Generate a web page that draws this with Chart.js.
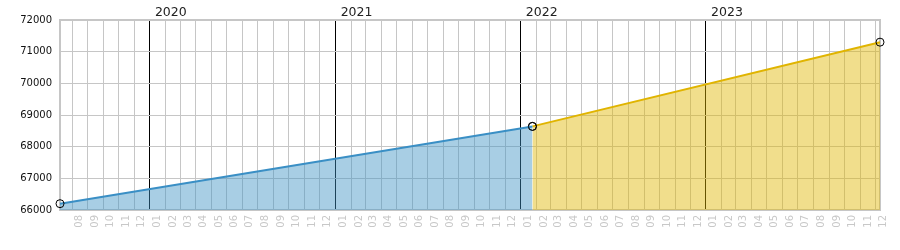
<!DOCTYPE html>
<html>
<head>
<meta charset="utf-8">
<script src="https://cdn.jsdelivr.net/npm/chart.js@4/dist/chart.umd.min.js"></script>
<style>
    html, body { margin: 0; padding: 0; background: #fff; }
    #wrap { width: 900px; height: 250px; }
</style>
</head>
<body>
<div id="wrap"><canvas id="chart" width="900" height="250"></canvas></div>
<script>
// data
const blueDates = ['2019-07-08', '2022-01-24'];
const blueValues = [66200, 68640];
const yellowDates = ['2022-01-24', '2023-12-10'];
const yellowValues = [68640, 71300];
const yearLabels = ['2020', '2021', '2022', '2023'];
const yTicks = [66000, 67000, 68000, 69000, 70000, 71000, 72000];

const GRID = 'rgb(198, 198, 198)';
const FONT = 'DejaVu Sans';

const toPoints = (dates, values) => dates.map((d, i) => ({ x: Date.parse(d), y: values[i] }));

const xMin = Date.parse(blueDates[0]);
const xMax = Date.parse(yellowDates[yellowDates.length - 1]);

// month starts inside the range
function monthTicks(min, max) {
    const ticks = [];
    const d = new Date(min);
    let y = d.getUTCFullYear();
    let m = d.getUTCMonth() + 1;
    while (true) {
        if (m > 11) { m = 0; y++; }
        const t = Date.UTC(y, m, 1);
        if (t > max) break;
        ticks.push({ value: t });
        m++;
    }
    return ticks;
}

// plot frame
const framePlugin = {
    id: 'frame',
    beforeDatasetsDraw(chart) {
        const { ctx, chartArea: a } = chart;
        ctx.save();
        ctx.strokeStyle = GRID;
        ctx.lineWidth = 2;
        ctx.strokeRect(a.left, a.top, a.right - a.left, a.bottom - a.top);
        ctx.restore();
    }
};

const lineSet = (label, data, line, fill) => ({
    label: label,
    data: data,
    borderColor: line,
    backgroundColor: fill,
    borderWidth: 2,
    fill: 'start',
    tension: 0,
    clip: false,
    pointRadius: 4,
    pointBorderWidth: 1,
    pointBorderColor: '#000',
    pointBackgroundColor: 'rgba(0,0,0,0)',
    pointHoverRadius: 4
});

new Chart(document.getElementById('chart').getContext('2d'), {
    type: 'line',
    data: {
        datasets: [
            lineSet('A', toPoints(blueDates, blueValues), 'rgb(58, 143, 197)', 'rgba(62, 147, 195, 0.45)'),
            lineSet('B', toPoints(yellowDates, yellowValues), 'rgb(224, 180, 0)', 'rgba(224, 182, 0, 0.45)')
        ]
    },
    options: {
        responsive: false,
        animation: false,
        layout: { padding: { left: 0, right: 20, top: 0, bottom: 0 } },
        plugins: {
            legend: { display: false },
            tooltip: { enabled: false }
        },
        scales: {
            x: {
                type: 'linear',
                position: 'bottom',
                min: xMin,
                max: xMax,
                afterBuildTicks: (scale) => { scale.ticks = monthTicks(xMin, xMax); },
                afterFit: (scale) => { scale.height = 40; },
                border: { display: false },
                grid: {
                    drawTicks: false,
                    lineWidth: 1,
                    color: (ctx) => (ctx.tick && new Date(ctx.tick.value).getUTCMonth() === 0) ? '#000' : GRID
                },
                ticks: {
                    autoSkip: false,
                    minRotation: 90,
                    maxRotation: 90,
                    labelOffset: 7.7,
                    padding: 5,
                    color: 'rgb(200, 200, 200)',
                    font: { family: FONT, size: 10 },
                    callback: (v) => String(new Date(v).getUTCMonth() + 1).padStart(2, '0')
                }
            },
            years: {
                type: 'linear',
                position: 'top',
                min: xMin,
                max: xMax,
                afterBuildTicks: (scale) => {
                    scale.ticks = yearLabels.map(y => ({ value: Date.UTC(+y, 0, 1) }));
                },
                afterFit: (scale) => { scale.height = 20; },
                border: { display: false },
                grid: { display: false, drawTicks: false },
                ticks: {
                    autoSkip: false,
                    maxRotation: 0,
                    labelOffset: 21,
                    padding: 0,
                    color: '#222',
                    font: { family: FONT, size: 12.5 },
                    callback: (v) => String(new Date(v).getUTCFullYear())
                }
            },
            y: {
                min: 66000,
                max: 72000,
                afterBuildTicks: (scale) => { scale.ticks = yTicks.map(v => ({ value: v })); },
                afterFit: (scale) => { scale.width = 60; },
                border: { display: false },
                grid: { drawTicks: false, color: GRID, lineWidth: 1 },
                ticks: {
                    padding: 8,
                    color: '#111',
                    font: { family: FONT, size: 10 },
                    callback: (v) => String(v)
                }
            }
        }
    },
    plugins: [framePlugin]
});
</script>
</body>
</html>
